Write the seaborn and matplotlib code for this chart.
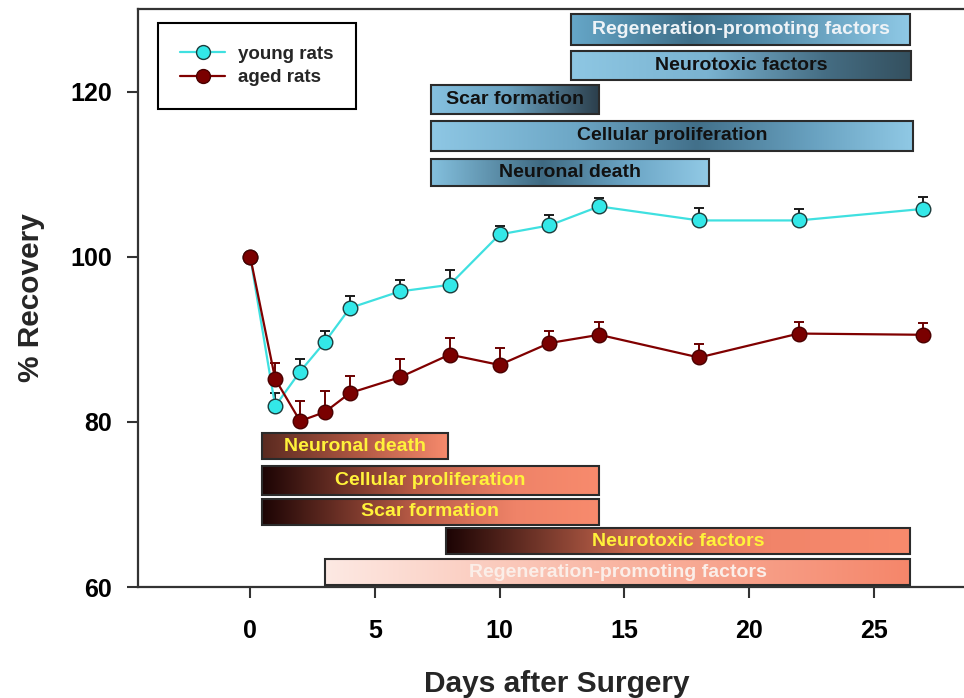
import numpy as np
import pandas as pd
import matplotlib
matplotlib.use("Agg")
import matplotlib.pyplot as plt
import seaborn as sns
from matplotlib.colors import LinearSegmentedColormap
from matplotlib.patches import Rectangle
from matplotlib.lines import Line2D

# ---------------- data ----------------
days = [0, 1, 2, 3, 4, 6, 8, 10, 12, 14, 18, 22, 27]
young = [100, 81.9, 86.1, 89.7, 93.8, 95.8, 96.6, 102.7, 103.8, 106.1, 104.4, 104.4, 105.8]
young_err = [0, 1.6, 1.5, 1.25, 1.4, 1.4, 1.8, 1.0, 1.2, 1.0, 1.5, 1.4, 1.4]
aged = [100, 85.2, 80.1, 81.2, 83.5, 85.4, 88.15, 86.9, 89.55, 90.55, 87.8, 90.7, 90.55]
aged_err = [0, 1.9, 2.4, 2.5, 2.0, 2.2, 2.0, 2.0, 1.4, 1.5, 1.6, 1.4, 1.4]

# young-rat processes (upper, blue bars)
young_labels = ["Regeneration-promoting factors", "Neurotoxic factors", "Scar formation",
                "Cellular proliferation", "Neuronal death"]
young_start = [12.87, 12.87, 7.24, 7.25, 7.24]
young_end = [26.46, 26.5, 14.0, 26.6, 18.4]
young_top = [129.4, 124.9, 120.8, 116.5, 111.8]
young_bottom = [125.7, 121.4, 117.35, 112.8, 108.6]

# aged-rat processes (lower, orange bars)
aged_labels = ["Neuronal death", "Cellular proliferation", "Scar formation",
               "Neurotoxic factors", "Regeneration-promoting factors"]
aged_start = [0.46, 0.46, 0.46, 7.87, 3.0]
aged_end = [7.94, 13.98, 13.98, 26.48, 26.48]
aged_top = [78.6, 74.6, 70.7, 67.1, 63.35]
aged_bottom = [75.45, 71.2, 67.5, 64.0, 60.2]

xticks = [0, 5, 10, 15, 20, 25]
yticks = [60, 80, 100, 120]

# ---------------- styles ----------------
young_cmaps = [
    [(0, "#66a7c8"), (0.35, "#3f6f89"), (0.55, "#4f88a6"), (1, "#8fc9e6")],
    [(0, "#8ec7e3"), (0.4, "#7ab3d1"), (0.75, "#456d83"), (1, "#34505f")],
    [(0, "#86c1e0"), (0.45, "#6ba3c1"), (1, "#2b3e4b")],
    [(0, "#8ec7e4"), (0.3, "#6da7c6"), (0.55, "#42708a"), (0.8, "#6aa3c2"), (1, "#90c9e5")],
    [(0, "#84c0de"), (0.4, "#3f6a82"), (0.7, "#6aa4c4"), (1, "#92cae6")],
]
young_text = ["#eef3f7", "#111111", "#111111", "#111111", "#111111"]
aged_cmaps = [
    [(0, "#5a2a20"), (0.5, "#ae5642"), (1, "#f78b6d")],
    [(0, "#1c0404"), (0.45, "#b85b46"), (0.75, "#ef8368"), (1, "#f88b6d")],
    [(0, "#1c0404"), (0.45, "#b85b46"), (0.75, "#ef8368"), (1, "#f88b6d")],
    [(0, "#1c0404"), (0.4, "#c9684f"), (0.7, "#f18469"), (1, "#f88b6d")],
    [(0, "#fde9e3"), (0.5, "#f9b5a2"), (1, "#f5866a")],
]
aged_text = ["#fff23a", "#fff23a", "#fff23a", "#fff23a", "#fbeee8"]

sns.set_style("white")
plt.rcParams["font.family"] = ["Liberation Sans", "DejaVu Sans"]

fig = plt.figure(figsize=(9.64, 6.98), dpi=100)
ax = fig.add_axes([0.1432, 0.159, 0.8568, 0.828])

grad = np.linspace(0, 1, 256).reshape(1, -1)


def draw_bars(labels, starts, ends, tops, bottoms, cmaps, tcolors):
    for lab, x0, x1, yt, yb, cm, tc in zip(labels, starts, ends, tops, bottoms, cmaps, tcolors):
        cmap = LinearSegmentedColormap.from_list(lab + str(x0), cm)
        ax.imshow(grad, extent=[x0, x1, yb, yt], cmap=cmap, aspect="auto",
                  origin="lower", zorder=2, interpolation="bilinear")
        ax.add_patch(Rectangle((x0, yb), x1 - x0, yt - yb, fill=False,
                               edgecolor="#2b2b2b", linewidth=1.5, zorder=2.2))
        ax.text((x0 + x1) / 2, (yt + yb) / 2, lab, ha="center", va="center",
                color=tc, fontsize=14, fontweight="bold", zorder=2.4)


draw_bars(young_labels, young_start, young_end, young_top, young_bottom, young_cmaps, young_text)
draw_bars(aged_labels, aged_start, aged_end, aged_top, aged_bottom, aged_cmaps, aged_text)

# error bars (upper only)
ax.errorbar(days, young, yerr=[np.zeros(len(young_err)), young_err], fmt="none",
            ecolor="#1a1a1a", elinewidth=1.4, capsize=3.6, capthick=1.4, zorder=3)
ax.errorbar(days, aged, yerr=[np.zeros(len(aged_err)), aged_err], fmt="none",
            ecolor="#6a0000", elinewidth=1.4, capsize=3.6, capthick=1.4, zorder=3)

df_y = pd.DataFrame({"day": days, "recovery": young})
df_a = pd.DataFrame({"day": days, "recovery": aged})
young_color = "#3fe0e0"
aged_color = "#800000"
sns.lineplot(data=df_y, x="day", y="recovery", color=young_color, linewidth=1.6,
             marker="o", markersize=10.5, markerfacecolor="#33e8e8",
             markeredgecolor="#1c3c3c", markeredgewidth=1.0, ax=ax, zorder=4)
sns.lineplot(data=df_a, x="day", y="recovery", color=aged_color, linewidth=1.6,
             marker="o", markersize=10.5, markerfacecolor="#7a0000",
             markeredgecolor="#4a0000", markeredgewidth=1.0, ax=ax, zorder=5)

ax.set_xlim(-4.5, 28.63)
ax.set_ylim(60, 130)
ax.set_xticks(xticks)
ax.set_yticks(yticks)
ax.tick_params(axis="both", direction="out", length=8, width=1.5, color="#333333",
               labelsize=18, pad=11, labelcolor="black")
ax.tick_params(axis="x", pad=15)
ax.tick_params(axis="y", left=True)
ax.tick_params(axis="x", bottom=True)
for lbl in ax.get_xticklabels() + ax.get_yticklabels():
    lbl.set_fontweight("bold")

for side in ["left", "bottom", "top"]:
    ax.spines[side].set_visible(True)
    ax.spines[side].set_color("#333333")
    ax.spines[side].set_linewidth(1.6)
ax.spines["right"].set_visible(False)

ax.set_xlabel("Days after Surgery", fontsize=21.5, fontweight="bold")
ax.set_ylabel("% Recovery", fontsize=21.5, fontweight="bold")
ax.xaxis.set_label_coords(0.507, -0.143)
ax.yaxis.set_label_coords(-0.113, 0.50)

handles = [
    Line2D([], [], color=young_color, linewidth=1.6, marker="o", markersize=10,
           markerfacecolor="#33e8e8", markeredgecolor="#1c3c3c"),
    Line2D([], [], color=aged_color, linewidth=1.6, marker="o", markersize=10,
           markerfacecolor="#7a0000", markeredgecolor="#4a0000"),
]
leg = ax.legend(handles, ["young rats", "aged rats"], loc="upper left",
                bbox_to_anchor=(0.024, 0.976), borderaxespad=0,
                prop={"size": 13.5, "weight": "bold"},
                handlelength=2.4, handletextpad=0.7, labelspacing=0.35,
                borderpad=1.2, fancybox=False, framealpha=1, edgecolor="black")
leg.get_frame().set_linewidth(1.5)

fig.savefig("out.png", dpi=100)
